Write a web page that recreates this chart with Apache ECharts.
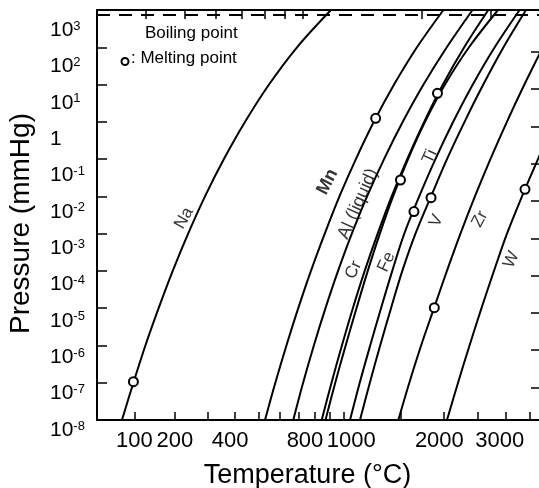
<!DOCTYPE html>
<html>
<head>
<meta charset="utf-8">
<script src="https://cdn.jsdelivr.net/npm/echarts@6/dist/echarts.min.js"></script>
<style>
html, body { margin: 0; padding: 0; background: #fff; }
#main { width: 539px; height: 488px; }
</style>
</head>
<body>
<div id="main"></div>
<script>
var pressures = [1e-8, 1e-7, 1e-6, 1e-5, 1e-4, 1e-3, 1e-2, 1e-1, 1, 10, 100, 1000];

// temperature (°C) of each metal at those pressures
var naTemp = [74, 98, 125, 157, 194, 238, 291, 357, 440, 547, 693, 905];
var mnTemp = [528, 578, 635, 700, 775, 863, 965, 1090, 1241, 1431, 1675, 2001];
var alTemp = [672, 728, 793, 868, 955, 1058, 1182, 1334, 1520, 1751, 2046, 2423];
var crTemp = [843, 909, 983, 1066, 1162, 1275, 1407, 1567, 1759, 1994, 2295, 2683];
var feTemp = [868, 935, 1011, 1095, 1188, 1295, 1421, 1576, 1769, 2022, 2368, 2856];
var tiTemp = [1044, 1121, 1209, 1306, 1413, 1536, 1701, 1897, 2135, 2427, 2796, 3277];
var vTemp = [1123, 1206, 1298, 1401, 1515, 1658, 1842, 2049, 2300, 2598, 2958, 3412];
var zrTemp = [1474, 1590, 1723, 1879, 2048, 2239, 2461, 2720, 3023, 3378, 3795];
var wTemp = [2049, 2204, 2376, 2568, 2783, 3025, 3327, 3680, 4093];

// melting points
var meltTemp = [98, 1257, 1923, 1496, 1641, 1842, 1883, 3391];
var meltPress = [1.07e-7, 1.24, 5.8, 0.0275, 0.0039, 0.0092, 1.03e-5, 0.0155];

// curve names
var labelNames = ['Na', 'Mn', 'Al (liquid)', 'Cr', 'Fe', 'Ti', 'V', 'Zr', 'W'];
var labelTemp = [226, 881, 1107, 1071, 1357, 1829, 1911, 2543, 3113];
var labelPress = [2.6e-3, 0.0245, 6.3e-3, 1.06e-4, 1.74e-4, 0.116, 2.2e-3, 2.46e-3, 2.0e-4];
var labelAngle = [60, 63, 66, 65, 65, 65, 65, 62, 65];

// axes
var xTicks = [100, 200, 300, 400, 500, 600, 700, 800, 900, 1000, 1500, 2000, 2500, 3000, 3500];
var xLabels = [100, 200, 400, 800, 1000, 2000, 3000];
var yTicks = [-8, -7, -6, -5, -4, -3, -2, -1, 0, 1, 2, 3];
var topTicksK = [400, 500, 600, 700, 800, 900, 1000, 2000, 3000];
var rightTicksPa = [1e-5, 1e-4, 1e-3, 1e-2, 1e-1, 1, 10, 100, 1000, 10000];
var boilingP = 760;

var FONT = 'Liberation Sans, Arial, sans-serif';

function lx(tC) { return Math.log10(tC + 273.15); }
function ly(p) { return Math.log10(p); }

// small nudges of the bottom labels, as in the original
var xLabelShift = { 100: 0, 200: 0, 400: -5, 800: -10, 1000: 7, 2000: -4, 3000: -6 };
var xRich = {};
xLabels.forEach(function (t) {
    var s = xLabelShift[t];
    xRich['t' + t] = {
        fontSize: 22, fontFamily: FONT, color: '#000',
        padding: s < 0 ? [0, -2 * s, 0, 0] : [0, 0, 0, 2 * s]
    };
});

// the printed y labels sit a little below their ticks, more so near the top
// (label top edge, in decades, measured from the tick)
function yLabelPos(n) { return n - (10 + (n + 8) * 10 / 11 - 10.5) / 37.27; }

function curve(name, temps) {
    return {
        name: name,
        type: 'line',
        data: temps.map(function (t, i) { return [lx(t), ly(pressures[i])]; }),
        smooth: 0.35,
        symbol: 'none',
        silent: true,
        lineStyle: { color: '#000', width: 2 },
        z: 2
    };
}

var series = [
    curve('Na', naTemp),
    curve('Mn', mnTemp),
    curve('Al', alTemp),
    curve('Cr', crTemp),
    curve('Fe', feTemp),
    curve('Ti', tiTemp),
    curve('V', vTemp),
    curve('Zr', zrTemp),
    curve('W', wTemp)
];

// boiling point line
series[0].markLine = {
    silent: true,
    symbol: ['none', 'none'],
    label: { show: false },
    lineStyle: { type: [13, 9], color: '#000', width: 2 },
    data: [{ yAxis: ly(boilingP) }]
};

series.push({
    name: 'melting',
    type: 'scatter',
    data: meltTemp.map(function (t, i) { return [lx(t), ly(meltPress[i])]; }),
    symbol: 'circle',
    symbolSize: 9,
    itemStyle: { color: '#fff', borderColor: '#000', borderWidth: 2, opacity: 1 },
    silent: true,
    z: 5
});

series.push({
    name: 'names',
    type: 'scatter',
    symbolSize: 1,
    itemStyle: { color: 'transparent' },
    silent: true,
    z: 6,
    data: labelNames.map(function (n, i) {
        return {
            value: [lx(labelTemp[i]), ly(labelPress[i])],
            label: {
                show: true,
                position: 'inside',
                formatter: n,
                rotate: labelAngle[i],
                fontSize: n === 'Mn' ? 18 : (n === 'Al (liquid)' ? 18 : 17),
                fontWeight: n === 'Mn' ? 'bold' : 'normal',
                fontFamily: FONT,
                color: '#000'
            }
        };
    })
});

var chart = echarts.init(document.getElementById('main'));
chart.setOption({
    animation: false,
    backgroundColor: '#fff',
    textStyle: { fontFamily: FONT, color: '#000' },
    grid: { left: 97, top: 10, width: 443, height: 410, containLabel: false, outerBoundsMode: 'none' },
    xAxis: [{
        type: 'value',
        min: lx(300 - 273.15),
        max: lx(4000 - 273.15),
        name: 'Temperature (°C)',
        nameLocation: 'middle',
        nameGap: 42,
        nameTextStyle: { fontSize: 27, color: '#000', fontFamily: FONT, padding: [0, 22, 0, 0] },
        axisLine: { show: true, onZero: false, lineStyle: { color: '#000', width: 2 } },
        axisTick: {
            show: true, inside: true, length: 8,
            customValues: xTicks.map(lx),
            lineStyle: { color: '#000', width: 1.5 }
        },
        axisLabel: {
            show: true, margin: 10,
            customValues: xLabels.map(lx),
            formatter: function (v) {
                var t = Math.round(Math.pow(10, v) - 273.15);
                return '{t' + t + '|' + t + '}';
            },
            rich: xRich
        },
        splitLine: { show: false }
    }, {
        type: 'value',
        position: 'top',
        min: lx(300 - 273.15),
        max: lx(4000 - 273.15),
        axisLine: { show: true, onZero: false, lineStyle: { color: '#000', width: 2 } },
        axisTick: {
            show: true, inside: true, length: 9,
            customValues: topTicksK.map(function (k) { return Math.log10(k); }),
            lineStyle: { color: '#000', width: 1.5 }
        },
        axisLabel: { show: false },
        splitLine: { show: false }
    }],
    yAxis: [{
        type: 'value',
        min: -8,
        max: 3,
        interval: 1,
        name: 'Pressure (mmHg)',
        nameLocation: 'middle',
        nameGap: 62,
        nameTextStyle: { fontSize: 28, color: '#000', fontFamily: FONT, padding: [0, 17, 0, 0] },
        axisLine: { show: true, onZero: false, lineStyle: { color: '#000', width: 2 } },
        axisTick: {
            show: true, inside: true, length: 10,
            customValues: yTicks,
            lineStyle: { color: '#000', width: 1.5 }
        },
        axisLabel: {
            show: true,
            align: 'left',
            verticalAlign: 'top',
            margin: 47,
            customValues: yTicks.map(yLabelPos),
            formatter: function (v) {
                var n = Math.round(v);
                return n === 0 ? '{b|1}' : '{b|10}{s|' + n + '}';
            },
            rich: {
                b: { fontSize: 21, lineHeight: 21, fontFamily: FONT, color: '#000' },
                s: { fontSize: 13, lineHeight: 13, verticalAlign: 'top', fontFamily: FONT, color: '#000' }
            }
        },
        splitLine: { show: false }
    }, {
        type: 'value',
        position: 'right',
        min: -8,
        max: 3,
        axisLine: { show: false, onZero: false },
        axisTick: {
            show: true, inside: true, length: 9,
            customValues: rightTicksPa.map(function (p) { return Math.log10(p / 133.322); }),
            lineStyle: { color: '#000', width: 1.5 }
        },
        axisLabel: { show: false },
        splitLine: { show: false }
    }],
    graphic: [
        { type: 'text', left: 145, top: 25, style: { text: 'Boiling point', font: '17px ' + FONT, fill: '#000' } },
        { type: 'circle', shape: { cx: 125, cy: 61.5, r: 3.5 }, style: { fill: '#fff', stroke: '#000', lineWidth: 2 } },
        { type: 'text', left: 131, top: 50, style: { text: ': Melting point', font: '17px ' + FONT, fill: '#000' } }
    ],
    series: series
});
</script>
</body>
</html>
